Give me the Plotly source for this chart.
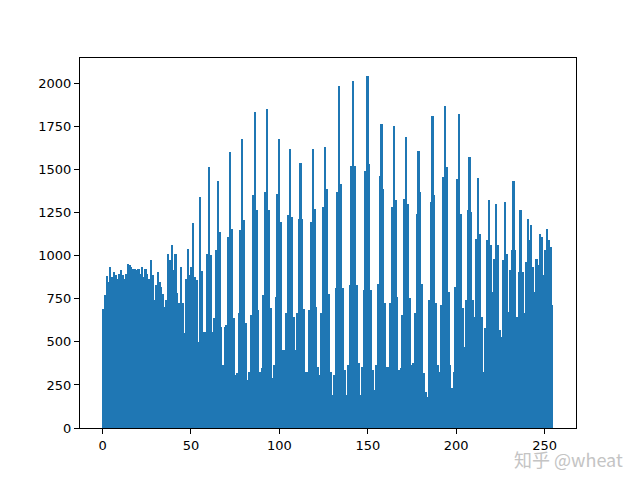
import numpy as np
import plotly.graph_objects as go

# Histogram counts for pixel values 0..255
counts = [
    690, 770, 880, 850, 935, 877, 906, 887, 868, 896,
    916, 887, 868, 896, 955, 945, 935, 925, 925, 915,
    925, 896, 935, 877, 925, 896, 868, 974, 887, 742,
    829, 906, 848, 819, 780, 703, 742, 1012, 974, 1061,
    916, 1012, 781, 723, 935, 723, 549, 868, 1041, 887,
    935, 1190, 877, 860, 500, 1341, 910, 558, 558, 1012,
    1515, 1003, 558, 636, 1032, 1437, 1138, 587, 365, 587,
    600, 1109, 1602, 1157, 636, 307, 317, 665, 1148, 1679,
    1206, 607, 278, 327, 655, 1350, 1833, 1264, 684, 327,
    346, 771, 1370, 1853, 1264, 694, 288, 365, 761, 1360,
    1680, 1196, 452, 452, 665, 1235, 1621, 1225, 645, 452,
    665, 1215, 1540, 1215, 690, 327, 327, 684, 1196, 1621,
    1273, 703, 355, 307, 665, 1283, 1634, 1389, 780, 327,
    191, 307, 810, 1370, 1988, 1418, 810, 336, 191, 365,
    829, 1524, 2017, 1524, 829, 375, 191, 355, 800, 1495,
    2046, 1534, 800, 336, 220, 365, 838, 1466, 1766, 1389,
    723, 355, 355, 723, 1283, 1756, 1322, 761, 336, 346,
    655, 1331, 1689, 1302, 752, 365, 375, 665, 1244, 1611,
    1370, 838, 317, 211, 182, 742, 1312, 1814, 1350, 723,
    365, 327, 713, 1457, 1872, 1515, 790, 365, 230, 327,
    819, 1447, 1824, 1244, 694, 471, 742, 1264, 1573, 1254,
    742, 645, 1099, 1450, 1128, 645, 327, 578, 1090, 1322,
    1061, 790, 983, 1302, 1061, 568, 529, 974, 1312, 1012,
    674, 916, 1032, 1437, 1032, 645, 906, 1264, 906, 665,
    964, 1215, 1090, 1177, 935, 790, 983, 944, 1128, 1109,
    887, 1032, 1157, 1090, 1051, 713,
]

x_ticks = [0, 50, 100, 150, 200, 250]
y_ticks = [0, 250, 500, 750, 1000, 1250, 1500, 1750, 2000]
watermark = "知乎 @wheat"

n_bins = len(counts)
edges = np.linspace(0, 255, n_bins + 1)
centers = (edges[:-1] + edges[1:]) / 2
width = edges[1] - edges[0]

fig = go.Figure()
fig.add_trace(go.Bar(
    x=centers, y=counts, width=width,
    marker=dict(color="#1f77b4", line=dict(width=0)),
    hoverinfo="skip",
))

ymax = max(counts) * 1.05
axis_common = dict(
    showline=True, linecolor="black", linewidth=1, mirror=True,
    ticks="outside", ticklen=5, tickwidth=1, tickcolor="black",
    showgrid=False, zeroline=False,
    tickfont=dict(family="DejaVu Sans", size=13, color="black"),
)
fig.update_xaxes(range=[-12.75, 267.75], tickvals=x_ticks, **axis_common)
fig.update_yaxes(range=[0, ymax], tickvals=y_ticks, **axis_common)

# page body has an 8px margin, so the figure is 8px smaller and shifted
fig.update_layout(
    width=632, height=472,
    margin=dict(l=72, r=64, t=50, b=52),
    paper_bgcolor="white", plot_bgcolor="white",
    bargap=0, showlegend=False,
    annotations=[dict(
        text=watermark, xref="paper", yref="paper",
        x=1.099, y=-0.083, xanchor="right", yanchor="middle",
        showarrow=False,
        font=dict(family="Noto Sans CJK SC", size=18, color="#c4c4c4"),
    )],
)

fig.write_html("out.html")
